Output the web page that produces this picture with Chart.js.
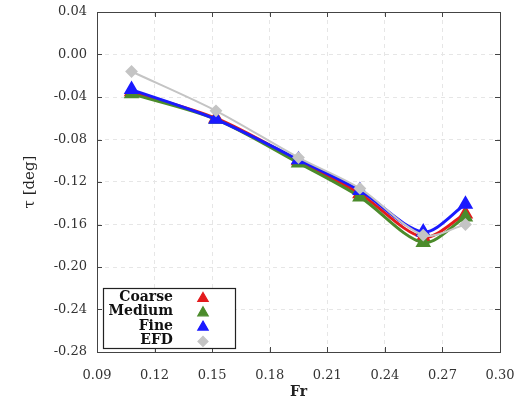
<!DOCTYPE html>
<html>
<head>
<meta charset="utf-8">
<script src="https://cdn.jsdelivr.net/npm/chart.js@4"></script>
<style>
  html, body { margin: 0; padding: 0; background: #fff; }
  #wrap { width: 525px; height: 414px; }
</style>
</head>
<body>
<div id="wrap"><canvas id="trimChart" width="525" height="414"></canvas></div>
<script>
var froude = [0.108, 0.152, 0.195, 0.227, 0.260, 0.282];
var coarse = [-0.035, -0.060, -0.100, -0.131, -0.172, -0.150];
var medium = [-0.037, -0.061, -0.102, -0.134, -0.177, -0.153];
var fine   = [-0.033, -0.061, -0.099, -0.128, -0.167, -0.141];
var efd    = [-0.016, -0.053, -0.097, -0.126, -0.170, -0.160];

var serif = "'DejaVu Serif', 'Liberation Serif', serif";

function pts(ys) {
  var out = [];
  for (var i = 0; i < froude.length; i++) out.push({x: froude[i], y: ys[i]});
  return out;
}

function series(label, ys, color, style, radius, width, order) {
  return {
    label: label,
    data: pts(ys),
    order: order,
    borderColor: color,
    backgroundColor: color,
    pointBackgroundColor: color,
    pointBorderColor: color,
    pointStyle: style,
    pointRadius: radius,
    borderWidth: width,
    tension: 0.3,
    fill: false
  };
}

// frame box + inward ticks, and the legend box at lower left
var framePlugin = {
  id: 'frame',
  afterDraw: function(chart) {
    var c = chart.ctx, a = chart.chartArea;
    var xs = chart.scales.x, ys = chart.scales.y;
    c.save();
    c.strokeStyle = '#444';
    c.lineWidth = 1;
    c.strokeRect(a.left + 0.5, a.top + 0.5, a.right - a.left, a.bottom - a.top);
    c.beginPath();
    xs.ticks.forEach(function(t) {
      var px = Math.round(xs.getPixelForValue(t.value)) + 0.5;
      c.moveTo(px, a.bottom); c.lineTo(px, a.bottom - 5);
      c.moveTo(px, a.top); c.lineTo(px, a.top + 5);
    });
    ys.ticks.forEach(function(t) {
      var py = Math.round(ys.getPixelForValue(t.value)) + 0.5;
      c.moveTo(a.left, py); c.lineTo(a.left + 5, py);
      c.moveTo(a.right, py); c.lineTo(a.right - 5, py);
    });
    c.stroke();

    // legend
    var bx = a.left + 6, by = a.bottom - 64, bw = 132, bh = 60;
    c.fillStyle = '#fff';
    c.fillRect(bx, by, bw, bh);
    c.strokeStyle = '#222';
    c.lineWidth = 1.2;
    c.strokeRect(bx + 0.5, by + 0.5, bw, bh);
    c.font = 'bold 14px ' + serif;
    c.textAlign = 'right';
    c.textBaseline = 'middle';
    chart.data.datasets.forEach(function(ds, i) {
      var ly = by + 9.5 + i * 14.3;
      c.fillStyle = '#111';
      c.fillText(ds.label, bx + 70, ly);
      c.save();
      c.fillStyle = ds.backgroundColor;
      c.strokeStyle = ds.borderColor;
      Chart.helpers.drawPoint(c, {
        pointStyle: ds.pointStyle, radius: ds.pointRadius, borderWidth: 1, rotation: 0
      }, bx + 100, ly + 1);
      c.restore();
    });
    c.restore();
  }
};

new Chart(document.getElementById('trimChart'), {
  type: 'line',
  data: {
    datasets: [
      series('Coarse', coarse, '#e31a1c', 'triangle', 6, 3, 3),
      series('Medium', medium, '#4b8b2b', 'triangle', 6, 3, 2),
      series('Fine', fine, '#1a1aff', 'triangle', 6, 3, 1),
      series('EFD', efd, '#c4c4c4', 'rectRot', 5, 2, 0)
    ]
  },
  options: {
    responsive: false,
    animation: false,
    layout: { padding: { top: 12, right: 25, left: 0, bottom: 0 } },
    plugins: { legend: { display: false }, tooltip: { enabled: false } },
    scales: {
      x: {
        type: 'linear',
        min: 0.09, max: 0.30,
        afterFit: function(s) { s.height = 62; s.paddingLeft = 0; s.paddingRight = 0; },
        ticks: {
          stepSize: 0.03,
          padding: 16,
          color: '#333',
          font: { family: serif, size: 13 },
          callback: function(v) { return v.toFixed(2); }
        },
        grid: { color: '#e6e6e6', drawTicks: false },
        border: { display: false, dash: [4, 4] },
        title: {
          display: true, text: 'Fr', color: '#222',
          font: { family: serif, size: 14, weight: 'bold' },
          padding: { top: 0, bottom: 13 }
        }
      },
      y: {
        min: -0.28, max: 0.04,
        afterFit: function(s) { s.width = 97; s.paddingTop = 0; s.paddingBottom = 0; },
        ticks: {
          stepSize: 0.04,
          padding: 10,
          color: '#333',
          font: { family: serif, size: 13 },
          callback: function(v) { return v.toFixed(2); }
        },
        grid: { color: '#e6e6e6', drawTicks: false },
        border: { display: false, dash: [4, 4] },
        title: {
          display: true, text: 'τ [deg]', color: '#222',
          font: { family: serif, size: 15 },
          padding: { top: 21, bottom: 0 }
        }
      }
    }
  },
  plugins: [framePlugin]
});
</script>
</body>
</html>
